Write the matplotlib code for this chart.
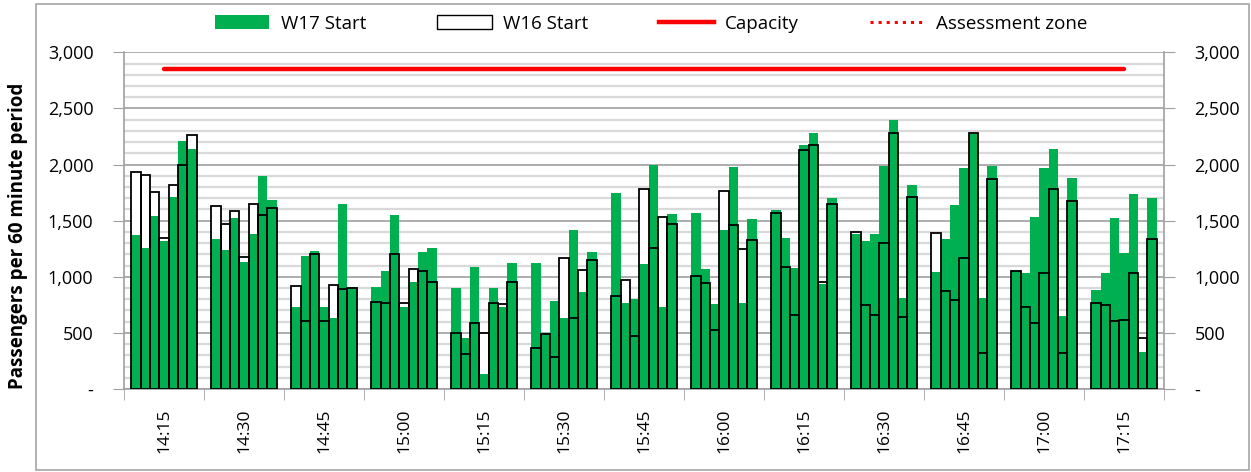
import matplotlib.pyplot as plt
import numpy as np
from matplotlib.patches import Patch, Rectangle
from matplotlib.lines import Line2D
from matplotlib.ticker import FuncFormatter, MultipleLocator

plt.rcParams['font.family'] = ['Open Sans', 'DejaVu Sans']

times = ['14:15', '14:30', '14:45', '15:00', '15:15', '15:30', '15:45',
         '16:00', '16:15', '16:30', '16:45', '17:00', '17:15']

# 7 bars per 15 minute slot
w17 = [
    [1372, 1259, 1544, 1322, 1707, 2206, 2138],
    [1340, 1236, 1521, 1135, 1384, 1894, 1681],
    [731, 1188, 1230, 731, 636, 1651, 909],
    [909, 1052, 1547, 731, 954, 1218, 1256],
    [903, 452, 1090, 132, 903, 731, 1120],
    [1120, 495, 784, 636, 1417, 868, 1224],
    [1749, 767, 803, 1117, 1995, 731, 1556],
    [1568, 1070, 758, 1420, 1974, 764, 1515],
    [1592, 1343, 1076, 2170, 2278, 940, 1701],
    [1377, 1315, 1380, 1990, 2399, 808, 1817],
    [1043, 1337, 1639, 1971, 2275, 815, 1990],
    [1064, 1034, 1533, 1965, 2135, 651, 1876],
    [880, 1034, 1521, 1212, 1737, 328, 1698],
]
w16 = [
    [1936, 1909, 1752, 1343, 1817, 1998, 2260],
    [1634, 1467, 1586, 1176, 1651, 1550, 1610],
    [915, 609, 1206, 609, 930, 892, 903],
    [779, 770, 1206, 770, 1067, 1049, 957],
    [497, 313, 589, 497, 770, 761, 957],
    [366, 488, 289, 1165, 636, 1058, 1150],
    [826, 969, 476, 1784, 1259, 1537, 1467],
    [1007, 948, 524, 1767, 1458, 1245, 1328],
    [1565, 1088, 660, 2132, 2176, 950, 1651],
    [1399, 752, 660, 1304, 2283, 639, 1708],
    [1393, 871, 791, 1168, 2280, 319, 1874],
    [1049, 734, 589, 1031, 1782, 319, 1672],
    [770, 752, 610, 618, 1034, 458, 1339],
]
capacity = 2850

green = '#00B050'
n_groups = len(times)
n_bars = 7
bw = 0.1168

x = []
for g in range(n_groups):
    for i in range(n_bars):
        x.append(g + (i - 3) * bw)
x = np.array(x)
v17 = np.array(w17).ravel()
v16 = np.array(w16).ravel()

fig = plt.figure(figsize=(12.51, 4.72), dpi=100)
ax = fig.add_axes([0.0991, 0.1758, 0.9305 - 0.0991, 0.8892 - 0.1758])

ax.bar(x, v16, width=bw, color='white', edgecolor='none', zorder=2)
ax.bar(x, v17, width=bw, color=green, edgecolor='none', zorder=3)
ax.bar(x, v16, width=bw, facecolor='none', edgecolor='black', linewidth=1.3, zorder=4)
ax.plot(np.arange(n_groups), [capacity] * n_groups, color='red', lw=3.2,
        solid_capstyle='round', zorder=5)

ax.set_xlim(-0.5, n_groups - 0.5)
ax.set_ylim(0, 3000)
ax.yaxis.set_major_locator(MultipleLocator(500))
ax.yaxis.set_minor_locator(MultipleLocator(100))
fmt = FuncFormatter(lambda v, p: '-' if v == 0 else f'{v:,.0f}')
ax.yaxis.set_major_formatter(fmt)
ax.grid(axis='y', which='minor', color='#D9D9D9', lw=1.6, zorder=0)
ax.grid(axis='y', which='major', color='#A0A0A0', lw=1.2, zorder=0)
ax.set_axisbelow(True)

ax.set_xticks(np.arange(n_groups))
ax.set_xticklabels(times, rotation=90, fontsize=12.5)
ax.set_xticks(np.arange(n_groups + 1) - 0.5, minor=True)
ax.tick_params(axis='x', which='major', length=0, pad=14)
ax.tick_params(axis='x', which='minor', length=8, color='#A0A0A0', direction='out')
ax.tick_params(axis='y', which='major', length=8, color='#A0A0A0', direction='out',
               labelsize=13, pad=14, right=True, labelright=True)
ax.tick_params(axis='y', which='minor', length=0)

ax.spines['top'].set_visible(False)
for s in ['left', 'right', 'bottom']:
    ax.spines[s].set_color('#A0A0A0')
    ax.spines[s].set_linewidth(1.2)

ax.set_ylabel('Passengers per 60 minute period', fontsize=13.5, fontweight='bold')
ax.yaxis.set_label_coords(-0.092, 0.455)

handles = [
    Patch(facecolor=green, edgecolor='none', label='W17 Start'),
    Patch(facecolor='white', edgecolor='black', label='W16 Start'),
    Line2D([], [], color='red', lw=3.2, label='Capacity'),
    Line2D([], [], color='red', lw=2.2, ls=':', label='Assessment zone'),
]
fig.legend(handles=handles, loc='center', bbox_to_anchor=(0.5204, 0.950), ncol=4,
           frameon=False, fontsize=13.5, handlelength=2.9, handleheight=0.75,
           columnspacing=3.8, handletextpad=0.6)

fig.patches.append(Rectangle((36 / 1251, 2 / 472), (1249 - 36) / 1251, (469 - 3) / 472,
                             transform=fig.transFigure, fill=False,
                             edgecolor='#A6A6A6', lw=1.2))

fig.savefig('out.png', dpi=100)
